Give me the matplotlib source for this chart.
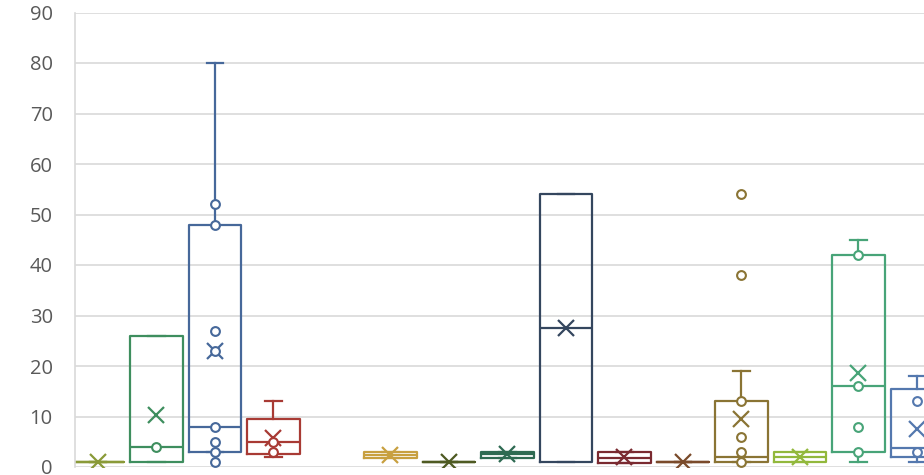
import matplotlib
matplotlib.use("Agg")
import matplotlib.pyplot as plt

# ---- data ----
groups = [0, 1, 2, 3, 5, 6, 7, 8, 9, 10, 11, 12, 13, 14]   # slot 4 is empty
q1 = [1, 1, 3, 2.5, 1.7, 1, 1.8, 1, 0.8, 1, 1, 1, 3, 2]
med = [1, 4, 8, 5, 2.3, 1, 2.5, 27.5, 1.8, 1, 2, 2, 16, 3.8]
q3 = [1, 26, 48, 9.5, 2.9, 1, 3, 54, 3, 1, 13, 3, 42, 15.4]
whislo = [1, 1, 3, 2, 1.7, 1, 1.8, 1, 0.8, 1, 1, 1, 1, 1]
whishi = [1, 26, 80, 13, 2.9, 1, 3, 54, 3, 1, 19, 3, 45, 18]
means = [1, 10.2, 23, 5.8, 2.4, 1, 2.5, 27.5, 2, 1, 9.5, 2, 18.7, 7.5]
points = [[], [4], [52, 48, 27, 23, 8, 5, 3, 1], [5, 3], [], [], [], [], [],
          [], [54, 38, 13, 6, 3, 1], [], [42, 16, 8, 3], [13, 3]]
colors = ["#8A9A38", "#3E8E5E", "#46689A", "#A83A34", "#C8A040", "#4E5A22",
          "#2E6A52", "#34465E", "#7A2A30", "#7A4A2A", "#8A7434", "#92B83C",
          "#48A478", "#5478AE"]

yticks = list(range(0, 100, 10))

GRID = "#D9D9D9"
TICK = "#595959"

fig = plt.figure(figsize=(9.24, 4.75), dpi=100)
ax = fig.add_axes([75 / 924, 8 / 475, 1 - 75 / 924, 454.5 / 475])

for i, g in enumerate(groups):
    c = colors[i]
    stat = dict(q1=q1[i], med=med[i], q3=q3[i], whislo=whislo[i],
                whishi=whishi[i], mean=means[i], fliers=[])
    lp = dict(color=c, linewidth=1.6)
    ax.bxp([stat], positions=[g], widths=0.89, capwidths=0.28,
           showmeans=True, showfliers=False, manage_ticks=False,
           boxprops=lp, whiskerprops=lp, capprops=lp, medianprops=lp,
           meanprops=dict(marker="x", markeredgecolor=c, markersize=11,
                          markeredgewidth=1.6))
    if points[i]:
        ax.scatter([g] * len(points[i]), points[i], s=40, facecolor="white",
                   edgecolor=c, linewidth=1.5, zorder=4)

ax.set_xlim(-0.393, 14.12)
ax.set_ylim(0, 90)
ax.set_yticks(yticks)
ax.set_xticks([])
ax.yaxis.grid(True, color=GRID, linewidth=1.2)
ax.set_axisbelow(True)
for s in ["top", "right", "bottom"]:
    ax.spines[s].set_visible(False)
ax.spines["left"].set_color(GRID)
ax.spines["left"].set_linewidth(1.2)
ax.tick_params(axis="y", length=0, pad=16, labelsize=14.5, labelcolor=TICK)
for lab in ax.get_yticklabels():
    lab.set_fontfamily("Open Sans")

fig.savefig("out.png", dpi=100)
